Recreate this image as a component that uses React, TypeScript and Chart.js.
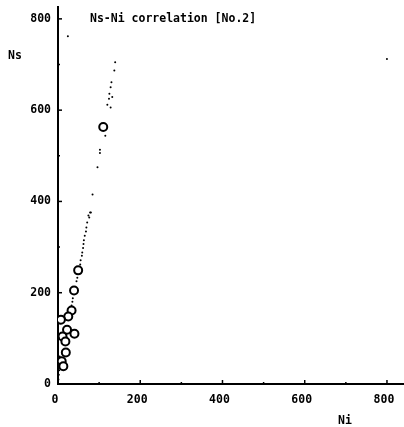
import React, { useEffect, useRef } from 'react';
import { Chart, registerables } from 'chart.js';

Chart.register(...registerables);

const TITLE = 'Ns-Ni correlation [No.2]';
const X_LABEL = 'Ni';
const Y_LABEL = 'Ns';
const X_TICKS = [0, 100, 200, 300, 400, 500, 600, 700, 800];
const Y_TICKS = [0, 100, 200, 300, 400, 500, 600, 700, 800];
const LABELED_TICKS = [0, 200, 400, 600, 800];
const X_MAX = 839;
const Y_MAX = 826;

// Open circles (measured points)
const circleNi = [110, 49, 39, 33, 25, 7, 22, 40, 11, 18, 19, 9, 13];
const circleNs = [563, 249, 205, 161, 148, 141, 119, 110, 104, 93, 69, 50, 39];

// Small dots (dotted trail)
const dotNi = [24, 800, 139, 137, 130, 128, 125, 132, 124, 120, 128, 115, 102, 102, 96, 84, 78, 74, 80, 76, 71, 69, 68, 65, 63, 62, 61, 59, 58, 55, 54, 47, 45, 36, 35, 33, 1, 2, 3, 2, 4];
const dotNs = [762, 712, 705, 687, 661, 650, 636, 629, 625, 612, 606, 544, 513, 506, 475, 415, 376, 369, 376, 365, 354, 343, 334, 325, 315, 307, 298, 288, 281, 271, 262, 233, 225, 188, 180, 172, 10, 20, 30, 45, 60];

const FONT_FAMILY = '"DejaVu Sans Mono", monospace';

export default function App() {
  const ref = useRef<HTMLCanvasElement | null>(null);

  useEffect(() => {
    if (!ref.current) return;

    const textPlugin = {
      id: 'textPlugin',
      afterDraw(chart: any) {
        const ctx = chart.ctx;
        const area = chart.chartArea;
        const xs = chart.scales.x;
        const ys = chart.scales.y;
        ctx.save();
        // inside tick marks
        ctx.strokeStyle = '#000';
        ctx.lineWidth = 1.5;
        X_TICKS.forEach((v) => {
          const px = xs.getPixelForValue(v);
          const len = LABELED_TICKS.includes(v) ? 4 : 2;
          ctx.beginPath();
          ctx.moveTo(px, area.bottom);
          ctx.lineTo(px, area.bottom - len);
          ctx.stroke();
        });
        Y_TICKS.forEach((v) => {
          const py = ys.getPixelForValue(v);
          const len = LABELED_TICKS.includes(v) ? 4 : 2;
          ctx.beginPath();
          ctx.moveTo(area.left, py);
          ctx.lineTo(area.left + len, py);
          ctx.stroke();
        });
        ctx.fillStyle = '#000';
        ctx.textBaseline = 'middle';
        ctx.textAlign = 'left';
        ctx.font = 'bold 11.5px ' + FONT_FAMILY;
        ctx.fillText(TITLE, 90, 19);
        ctx.fillText(Y_LABEL, 8, 56);
        ctx.fillText(X_LABEL, 338, 421);
        ctx.restore();
      },
    };

    const chart = new Chart(ref.current, {
      type: 'scatter',
      data: {
        datasets: [
          {
            label: 'dots',
            data: dotNi.map((x, i) => ({ x, y: dotNs[i] })),
            pointRadius: 1,
            pointBackgroundColor: '#000',
            pointBorderWidth: 0,
          },
          {
            label: 'circles',
            data: circleNi.map((x, i) => ({ x, y: circleNs[i] })),
            pointRadius: 4,
            pointBorderWidth: 2,
            pointBorderColor: '#000',
            pointBackgroundColor: '#fff',
          },
        ],
      },
      options: {
        animation: false,
        responsive: true,
        maintainAspectRatio: false,
        layout: { autoPadding: false, padding: { top: 7, right: 1, left: 0, bottom: 0 } },
        plugins: {
          legend: { display: false },
          tooltip: { enabled: false },
          title: { display: false },
        },
        scales: {
          x: {
            type: 'linear',
            min: 0,
            max: X_MAX,
            afterBuildTicks: (s: any) => {
              s.ticks = X_TICKS.map((v) => ({ value: v }));
            },
            afterFit: (s: any) => {
              s.height = 43;
              s.paddingLeft = 0;
              s.paddingRight = 0;
            },
            ticks: {
              autoSkip: false,
              maxRotation: 0,
              padding: 9,
              labelOffset: -3,
              color: '#000',
              font: { family: FONT_FAMILY, size: 11.5, weight: 'bold' },
              callback: (v: any) => (LABELED_TICKS.includes(Number(v)) ? String(v) : ''),
            },
            grid: { display: false, drawTicks: false },
            border: { display: true, color: '#000', width: 2 },
          },
          y: {
            type: 'linear',
            min: 0,
            max: Y_MAX,
            afterBuildTicks: (s: any) => {
              s.ticks = Y_TICKS.map((v) => ({ value: v }));
            },
            afterFit: (s: any) => {
              s.width = 58;
              s.paddingTop = 0;
              s.paddingBottom = 0;
            },
            ticks: {
              autoSkip: false,
              padding: 7,
              color: '#000',
              font: { family: FONT_FAMILY, size: 11.5, weight: 'bold' },
              callback: (v: any) => (LABELED_TICKS.includes(Number(v)) ? String(v) : ''),
            },
            grid: { display: false, drawTicks: false },
            border: { display: true, color: '#000', width: 2 },
          },
        },
      },
      plugins: [textPlugin],
    } as any);

    return () => chart.destroy();
  }, []);

  return (
    <div style={{ position: 'absolute', left: 0, top: 0, width: 404, height: 427, background: '#fff' }}>
      <canvas ref={ref} />
    </div>
  );
}
